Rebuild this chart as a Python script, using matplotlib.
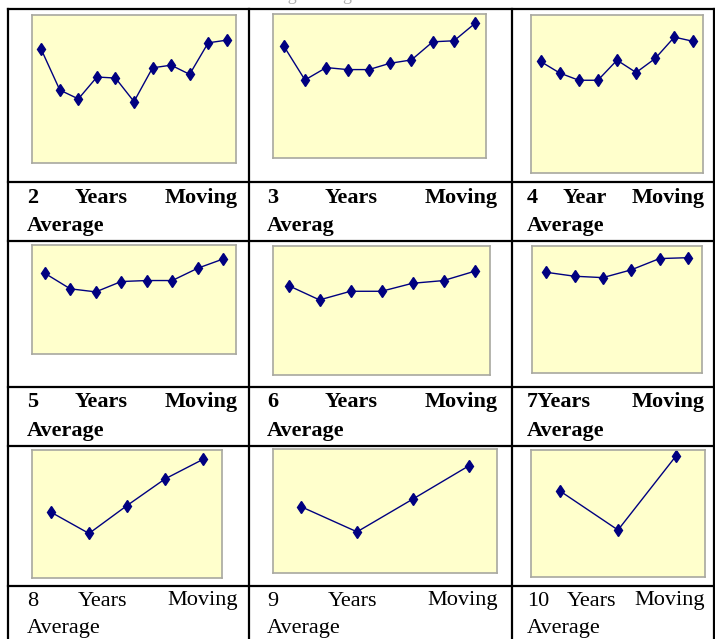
import matplotlib
matplotlib.use("Agg")
import matplotlib.pyplot as plt
from matplotlib.lines import Line2D

W, H = 715, 639

# moving-average series (0-100 scale of its box)
ma2 = [76.7, 49.3, 43.3, 58.1, 57.4, 41.5, 64.3, 66.1, 59.9, 81.2, 83.0]
ma3 = [77.9, 54.2, 62.8, 61.4, 61.4, 65.8, 68.1, 80.7, 81.4, 93.7]
ma4 = [70.6, 63.3, 58.7, 58.7, 71.4, 63.6, 72.5, 86.0, 83.3]
ma5 = [74.1, 59.8, 57.0, 66.5, 67.4, 67.4, 78.7, 87.2]
ma6 = [69.3, 58.2, 64.9, 64.9, 71.1, 73.2, 80.4]
ma7 = [79.3, 76.2, 75.1, 81.2, 90.1, 90.8]
ma8 = [51.4, 34.8, 56.6, 77.4, 92.7]
ma9 = [53.5, 33.2, 59.7, 86.5]
ma10 = [67.7, 37.0, 95.3]

captions = [
    ["2", "Years", "Moving"], ["3", "Years", "Moving"], ["4", "Year", "Moving"],
    ["5", "Years", "Moving"], ["6", "Years", "Moving"], ["7Years", "Moving"],
    ["8", "Years", "Moving"], ["9", "Years", "Moving"], ["10", "Years", "Moving"],
]
second_line = ["Average", "Averag", "Average",
               "Average", "Average", "Average",
               "Average", "Average", "Average"]
series = [ma2, ma3, ma4, ma5, ma6, ma7, ma8, ma9, ma10]

# pixel boxes of the yellow plot areas: (left, top, right, bottom)
boxes = [
    (32, 15, 236, 163), (273, 14, 486, 158), (531, 15, 703, 173),
    (32, 245, 236, 354), (273, 246, 490, 375), (532, 246, 702, 373),
    (32, 450, 222, 578), (273, 449, 497, 573), (531, 450, 705, 577),
]
# caption text: left x, right x per column; line y per row
col_x = [(27, 238), (267, 498), (527, 705)]
row_y = [(198, 226), (402, 431), (601, 629)]

fig = plt.figure(figsize=(W / 100, H / 100), dpi=100)
fig.patch.set_facecolor("white")
renderer = fig.canvas.get_renderer()


def px(x, y):
    return x / W, 1 - y / H


for vals, (l, t, r, b) in zip(series, boxes):
    ax = fig.add_axes([l / W, 1 - b / H, (r - l) / W, (b - t) / H])
    ax.set_facecolor("#FFFFCC")
    ax.plot(range(len(vals)), vals, color="#000080", lw=1.0,
            marker="d", markersize=6.5, markerfacecolor="#000080",
            markeredgecolor="#000080")
    ax.set_xlim(-0.5, len(vals) - 0.5)
    ax.set_ylim(0, 100)
    ax.set_xticks([])
    ax.set_yticks([])
    for s in ax.spines.values():
        s.set_color("#A8A8A0")
        s.set_linewidth(1.2)

# table grid
lw = 1.6
for y in [9, 182, 241, 387, 446, 586]:
    fig.add_artist(Line2D([8 / W, 1], [1 - y / H] * 2, color="black", lw=lw))
for x in [8, 249, 512, 714]:
    fig.add_artist(Line2D([x / W] * 2, [1 - 9 / H, 0], color="black", lw=lw))

# captions, justified like the original table text (equal gaps between words)
for i, words in enumerate(captions):
    row, col = divmod(i, 3)
    x0, x1 = col_x[col]
    y0, y1 = row_y[row]
    weight = "bold" if row < 2 else "normal"
    kw = dict(family="Liberation Serif", fontsize=16, weight=weight,
              va="center", ha="left", color="black")
    texts = [fig.text(*px(x0, y0), w, **kw) for w in words]
    widths = [t.get_window_extent(renderer).width for t in texts]
    gap = (x1 - x0 - sum(widths)) / (len(words) - 1)
    x = x0
    for t, wd in zip(texts, widths):
        t.set_position(px(x, y0))
        x += wd + gap
    fig.text(*px(x0, y1), second_line[i], **kw)

# title of the figure, mostly cut off by the page top
fig.text(*px(365, -5), "Moving Averages of the Indicators", ha="center",
         va="center", family="Liberation Serif", fontsize=13, color="#B0B0B0")

fig.savefig("out.png", dpi=100)
